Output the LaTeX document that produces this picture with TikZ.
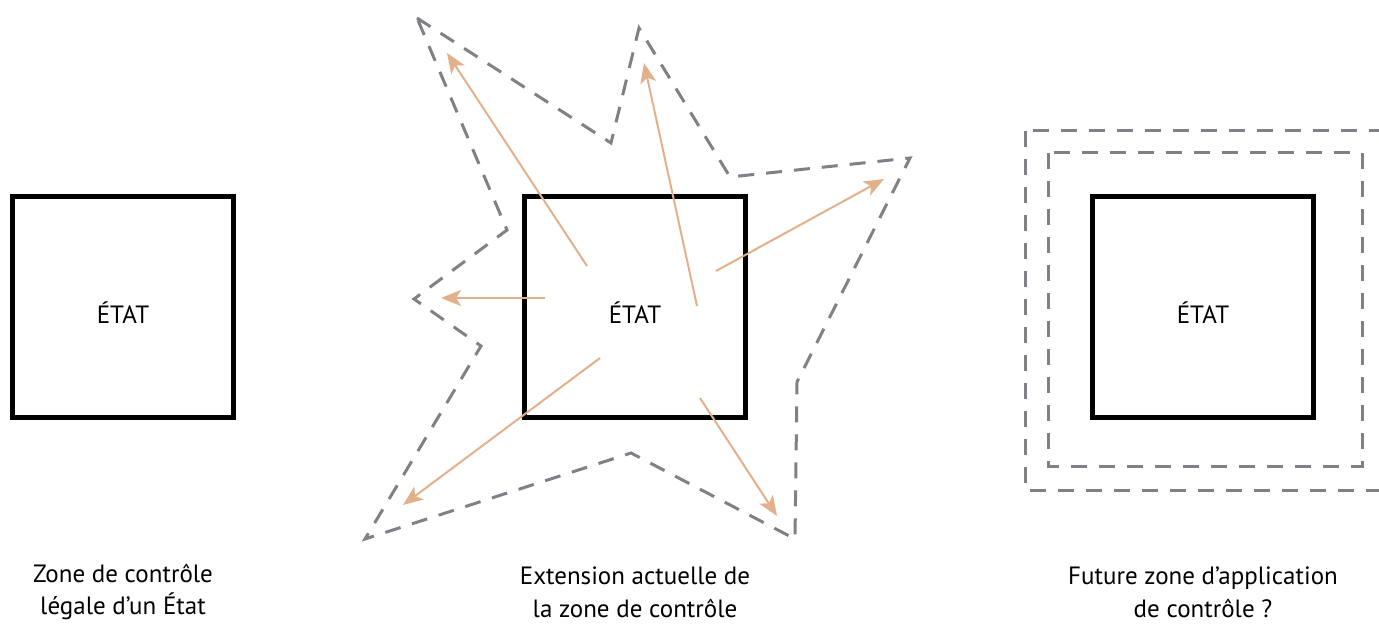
\documentclass[tikz,border=0pt]{standalone}
\usepackage{fontspec}
\setmainfont{PT Sans}
\usetikzlibrary{arrows.meta}
\definecolor{zonegray}{RGB}{128,128,134}
\definecolor{flecheorange}{RGB}{226,177,140}

\begin{document}
\begin{tikzpicture}[x=0.5pt, y=-0.5pt,
  etat/.style={draw=black, line width=2.6pt, minimum size=110.5pt, inner sep=0pt, text height=17pt, text depth=0pt, font=\fontsize{12.5}{14}\selectfont},
  zone/.style={draw=zonegray, line width=1.5pt, dash pattern=on 8pt off 6pt},
  fleche/.style={draw=flecheorange, line width=1pt, -{Stealth[length=10pt, width=8pt, inset=2.5pt]}},
  legende/.style={align=center, font=\fontsize{12.5}{16.3}\selectfont}]
\useasboundingbox (0,0) rectangle (1379,624);

% zone legale
\node[etat] (etat1) at (123,307) {ÉTAT};
\node[legende] (legende1) at (123,592) {Zone de contrôle\\légale d’un État};

% extension actuelle
\draw[zone] (417,18) -- (611,143) -- (639,28) -- (730,177) -- (910,158) -- (797,382) -- (795,539)
  -- (631,453) -- (365,539) -- (481,346) -- (414,299) -- (507,230) -- cycle;
\node[etat] (etat2) at (635,307) {ÉTAT};
\coordinate (d1) at (587,266);  \coordinate (f1) at (447,53);
\coordinate (d2) at (697,306);  \coordinate (f2) at (644,63);
\coordinate (d3) at (716,271);  \coordinate (f3) at (884,179);
\coordinate (d4) at (545,298);  \coordinate (f4) at (441,298);
\coordinate (d5) at (600,358);  \coordinate (f5) at (403,505);
\coordinate (d6) at (700,398);  \coordinate (f6) at (777,516);
\foreach \i in {1,...,6}
  \draw[fleche] (d\i) -- (f\i);
\node[legende] (legende2) at (635,592) {Extension actuelle de\\la zone de contrôle};

% future zone
\draw[zone] (1025,131) rectangle (1392,490);
\draw[zone] (1048,153) rectangle (1362,466);
\node[etat] (etat3) at (1203,307) {ÉTAT};
\node[legende] (legende3) at (1203,592) {Future zone d’application\\de contrôle ?};
\end{tikzpicture}
\end{document}
